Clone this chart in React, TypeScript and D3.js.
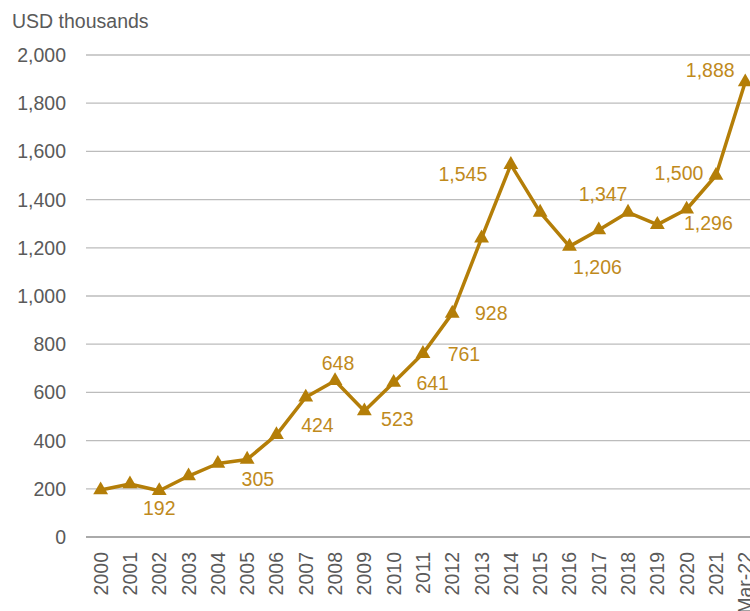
import React, { useEffect, useRef } from "react";
import * as d3 from "d3";

const categories = [
  "2000", "2001", "2002", "2003", "2004", "2005", "2006", "2007", "2008", "2009", "2010", "2011",
  "2012", "2013", "2014", "2015", "2016", "2017", "2018", "2019", "2020", "2021", "Mar-22",
];
const values = [
  195, 220, 192, 253, 305, 322, 424, 580, 648, 523, 641, 761,
  928, 1240, 1545, 1347, 1206, 1274, 1347, 1296, 1360, 1500, 1888,
];
const yTicks = [0, 200, 400, 600, 800, 1000, 1200, 1400, 1600, 1800, 2000];
const labelCats = ["2002", "2004", "2006", "2008", "2009", "2010", "2011", "2012", "2014", "2018", "2016", "2019", "2021", "Mar-22"];
const labelTexts = ["192", "305", "424", "648", "523", "641", "761", "928", "1,545", "1,347", "1,206", "1,296", "1,500", "1,888"];

// label offsets from their point (layout only)
const labelOffsets: [number, number][] = [
  [0, 17], [40, 16], [41, -10], [3, -18], [33, 8], [39, 0], [41, 0], [39, 0],
  [-48, 9], [-25, -18], [28, 21], [51, -2], [-37, -3], [-35, -12],
];

export default function App() {
  const ref = useRef<SVGSVGElement>(null);

  useEffect(() => {
    const width = 750;
    const left = 86, top = 55, bottom = 537;
    const svg = d3.select(ref.current);
    svg.selectAll("*").remove();

    const x = d3.scaleBand().domain(categories).range([left, left + 23 * 29.3]);
    const y = d3.scaleLinear().domain([0, 2000]).range([bottom, top]);
    const cx = (c: string) => (x(c) as number) + x.bandwidth() / 2;
    const font = "'Liberation Sans', Arial, sans-serif";
    const fs = 19.5;
    const grey = "#5a5a5a";

    svg.append("text").attr("x", 12).attr("y", 28)
      .attr("font-family", font).attr("font-size", fs).attr("fill", grey)
      .text("USD thousands");

    const grid = svg.append("g");
    yTicks.forEach((t) => {
      grid.append("line").attr("x1", left).attr("x2", width)
        .attr("y1", y(t)).attr("y2", y(t))
        .attr("stroke", t === 0 ? "#aaa" : "#bcbcbc")
        .attr("stroke-width", t === 0 ? 2 : 1.3);
      grid.append("text").attr("x", 66).attr("y", y(t))
        .attr("text-anchor", "end").attr("dominant-baseline", "central")
        .attr("font-family", font).attr("font-size", fs).attr("fill", grey)
        .text(d3.format(",")(t));
    });

    categories.forEach((c) => {
      svg.append("text")
        .attr("transform", `translate(${cx(c)},552) rotate(-90)`)
        .attr("text-anchor", "end").attr("dominant-baseline", "central")
        .attr("font-family", font).attr("font-size", fs).attr("fill", grey)
        .text(c);
    });

    const gold = "#b47e08";
    const line = d3.line<number>().x((_, i) => cx(categories[i])).y((d) => y(d));
    svg.append("path").datum(values).attr("d", line)
      .attr("fill", "none").attr("stroke", gold).attr("stroke-width", 3.5)
      .attr("stroke-linejoin", "round");

    const tri = d3.symbol().type(d3.symbolTriangle).size(95);
    svg.selectAll(".pt").data(values).enter().append("path")
      .attr("class", "pt")
      .attr("transform", (d, i) => `translate(${cx(categories[i])},${y(d)})`)
      .attr("d", tri()).attr("fill", gold);

    labelCats.forEach((c, k) => {
      const i = categories.indexOf(c);
      const [dx, dy] = labelOffsets[k];
      svg.append("text")
        .attr("x", cx(c) + dx).attr("y", y(values[i]) + dy)
        .attr("text-anchor", "middle").attr("dominant-baseline", "central")
        .attr("font-family", font).attr("font-size", fs).attr("fill", "#c08a1c")
        .text(labelTexts[k]);
    });
  }, []);

  return (
    <svg ref={ref} width={750} height={611}
      style={{ position: "absolute", left: 0, top: 0, background: "#fff" }} />
  );
}
